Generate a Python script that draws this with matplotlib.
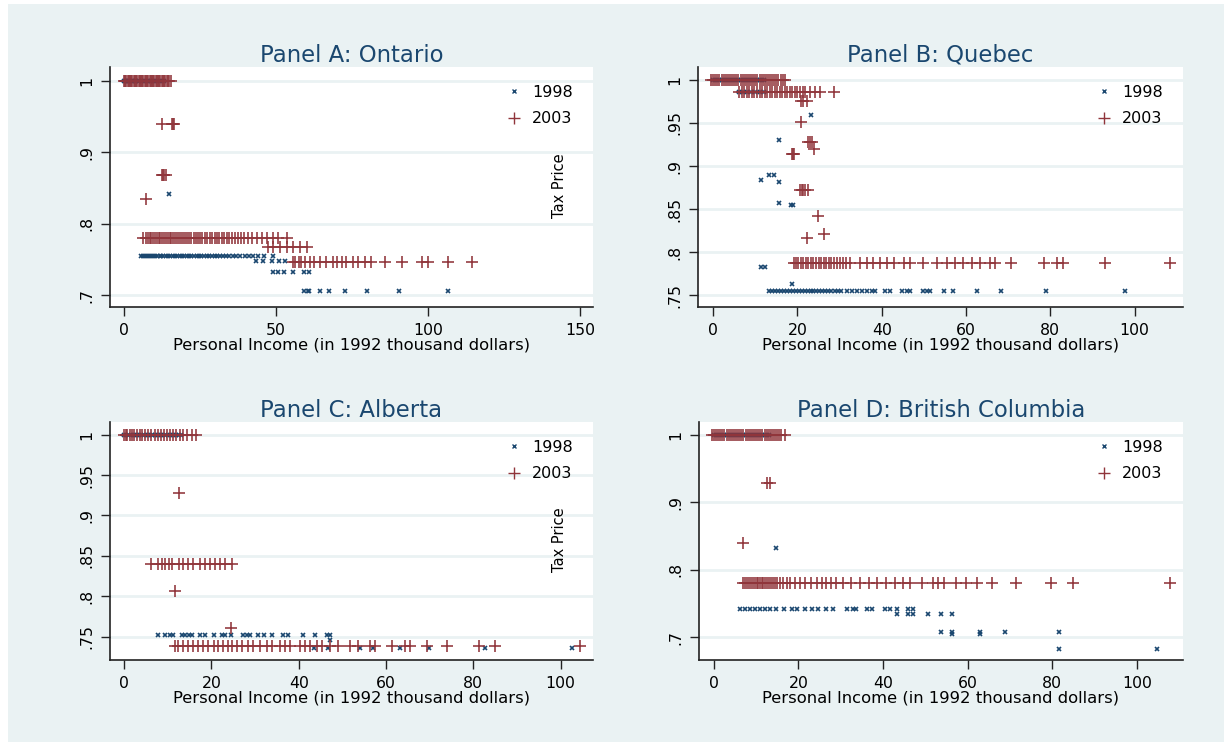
import matplotlib
matplotlib.use("Agg")
import matplotlib.pyplot as plt
from matplotlib.patches import Rectangle
from matplotlib.lines import Line2D

plt.rcParams['font.family'] = ['DejaVu Sans']

# ---------------- data (tax price rows: y -> list of incomes) ----------------
years = ["1998", "2003"]
titles = ["Panel A: Ontario", "Panel B: Quebec", "Panel C: Alberta", "Panel D: British Columbia"]
xlabel = "Personal Income (in 1992 thousand dollars)"
ylabel = "Tax Price"

ont_1998 = {
    1.0: [0, 0.3, 0.6, 1, 1.4, 1.8, 2.2, 2.7, 3.1, 3.6, 4, 4.5, 5, 5.5, 6, 6.6, 7.2, 7.8, 8.4, 9, 9.6,
          10.3, 11, 11.7, 12.4, 13.1],
    0.8415: [14.9],
    0.755: [5.5, 6.2, 7, 7.6, 8.3, 9, 9.6, 10.3, 11, 11.7, 12.3, 13, 13.8, 14.5, 15.2, 16, 16.8, 17.5,
            18.3, 19.1, 19.9, 20.6, 21.4, 22.2, 23, 23.9, 24.7, 25.5, 26.4, 27.2, 28, 28.9, 29.8, 30.7,
            31.6, 32.5, 33.4, 34.6, 35.8, 37, 38.2, 39.8, 41.2, 42.6, 44, 46, 48.9],
    0.7474: [43.3, 45.8, 48.6, 51, 53],
    0.733: [48.9, 50.8, 52.7, 55.5, 59.2, 61],
    0.706: [59.2, 60.6, 61, 64.5, 67.3, 72.7, 79.8, 90.5, 106.6],
}
ont_2003 = {
    1.0: [0, 0.4, 0.8, 1.2, 1.6, 2, 2.4, 2.8, 3.2, 3.6, 4, 4.4, 4.8, 5.2, 5.6, 6, 6.4, 6.8, 7.2, 7.6, 8,
          8.4, 8.8, 9.2, 9.6, 10, 10.4, 10.8, 11.2, 11.6, 12, 12.4, 12.8, 13.2, 13.6, 14, 14.4, 14.9, 15.4],
    0.94: [12.4, 15.7, 16.2, 16.6],
    0.868: [12.5, 12.9, 13.3, 13.7],
    0.835: [7.1],
    0.78: [6.4, 7.2, 7.8, 8.4, 9, 9.6, 10.2, 10.8, 11.4, 12, 12.6, 13.2, 13.8, 14.4, 15, 15.6, 16.2, 16.8,
           17.4, 18, 18.7, 19.4, 20.1, 20.8, 21.5, 22.2, 22.9, 23.6, 24.3, 25, 25.8, 26.6, 27.4, 28.2, 29,
           29.8, 30.6, 31.4, 32.2, 33, 33.8, 34.6, 35.6, 36.6, 37.6, 38.6, 39.6, 40.8, 42, 43.6, 45.3, 46.9,
           48.9, 50.8, 53.5],
    0.768: [47.5, 49.1, 51.3, 53.5, 55.7, 57.9, 60.1],
    0.746: [55.7, 56.2, 57.5, 58.4, 59.5, 61.2, 62.5, 64.5, 66.5, 68.9, 70, 71.6, 73, 75.4, 77, 79.2, 81.4,
            85.8, 91.3, 97.9, 100.1, 106.6, 114.6],
}

que_1998 = {
    1.0: [0, 0.5, 1, 1.5, 2, 2.5, 3, 3.5, 4, 4.5, 5, 5.5, 6, 6.5, 7, 7.5, 8, 8.5, 9, 9.5, 10, 10.5, 11, 11.5, 12],
    0.986: [6.2, 7, 8, 9, 10, 11, 12],
    0.959: [23.3],
    0.93: [15.7],
    0.8895: [13.3, 14.5],
    0.884: [11.4],
    0.881: [15.7],
    0.857: [15.7],
    0.855: [18.5, 19],
    0.783: [11.4, 12.3],
    0.763: [18.7],
    0.755: [13.3, 14, 14.7, 15.4, 16.1, 16.8, 17.5, 18.2, 18.9, 19.6, 20.3, 21, 21.7, 22.4, 23.1, 23.8, 24.5,
            25.2, 25.9, 26.6, 27.3, 28, 28.8, 29.6, 30.4, 31.7, 32.9, 34.1, 35.3, 36.5, 37.6, 38.4, 40.8, 42,
            44.8, 45.9, 46.7, 49.9, 50.8, 51.5, 54.7, 57, 62.6, 68.3, 79, 97.7],
}
que_2003 = {
    1.0: [-0.5, 0, 0.5, 1, 1.5, 2, 2.5, 3, 3.5, 4, 4.5, 5, 5.5, 6, 6.5, 7, 7.5, 8, 8.5, 9, 9.5, 10, 10.5, 11,
          11.5, 12, 12.5, 13, 13.5, 14, 14.5, 15, 15.5, 16, 16.5, 17],
    0.986: [6.2, 6.8, 7.4, 8, 8.6, 9.2, 9.8, 10.4, 11, 11.6, 12.2, 12.8, 13.4, 14, 14.6, 15.2, 15.8, 16.4, 17,
            17.6, 18.2, 18.8, 19.4, 20, 20.6, 21.2, 21.8, 23, 24.2, 25.4, 28.7],
    0.976: [20.9, 21.4, 22.2],
    0.9516: [20.9],
    0.928: [22.6, 23.0, 23.4],
    0.92: [24.0],
    0.914: [18.6, 18.9, 19.2],
    0.8725: [20.5, 21, 21.4, 21.8, 22.4],
    0.842: [24.8],
    0.8206: [26.3],
    0.816: [22.2],
    0.787: [19.1, 19.6, 20.2, 20.8, 21.4, 22, 22.6, 23.2, 23.8, 24.4, 25, 25.6, 26.2, 26.8, 27.4, 28, 28.7,
            29.4, 30.1, 30.8, 31.6, 32.5, 34.9, 36.5, 38, 39.6, 41.2, 42.8, 45.2, 46.7, 49.9, 53.1, 55.4,
            57.4, 59.4, 61.4, 63.3, 65.7, 66.9, 70.7, 78.4, 81.5, 83, 93, 108.4],
}

alb_1998 = {
    1.0: [0, 0.5, 1, 1.5, 2, 2.5, 3, 3.5, 4, 4.5, 5, 5.5, 6, 6.5, 7, 7.5, 8, 8.5, 9, 9.5, 10, 10.5, 11, 11.5,
          12, 12.5, 13],
    0.752: [7.9, 9.5, 10.5, 11.2, 13.2, 14, 14.8, 15.5, 17.4, 18.6, 20.5, 22.4, 23.2, 24.5, 27.3, 28.1, 28.9,
            30.8, 32.1, 33.8, 36.5, 37.6, 41.1, 43.8, 46.4, 47.2],
    0.746: [47.2],
    0.736: [43.4, 46.8, 54.1, 57.1, 63.2, 69.9, 82.7, 102.6],
}
alb_2003 = {
    1.0: [0, 0.4, 0.8, 1.3, 1.8, 2.4, 3, 3.6, 4.2, 4.8, 5.5, 6.2, 7, 7.7, 8.4, 9.1, 9.8, 10.5, 11.2, 12, 12.8,
          13.6, 14.5, 15.5, 16.6],
    0.928: [12.7],
    0.8395: [6.3, 7.9, 8.6, 9.4, 10.2, 10.9, 12.5, 13.6, 14.7, 15.9, 17.4, 18.6, 19.7, 20.9, 22.0, 23.1, 24.7],
    0.806: [11.7],
    0.7605: [24.4],
    0.7387: [11.7, 12.4, 13.6, 14.7, 15.9, 17.0, 18.2, 19.3, 20.5, 21.6, 22.7, 23.9, 24.7, 25.8, 27.0, 28.5,
             29.6, 31.2, 32.7, 33.8, 35.7, 36.9, 38.0, 40.3, 41.5, 42.6, 44.1, 45.3, 47.2, 49.1, 51.8, 53.7,
             56.4, 57.5, 61.3, 64.4, 65.5, 69.3, 73.9, 81.2, 85.0, 104.5],
}

bc_1998 = {
    1.0: [0, 0.5, 1, 1.5, 2, 2.5, 3, 3.5, 4, 4.5, 5, 5.5, 6, 6.5, 7, 7.5, 8, 8.5, 9, 9.5, 10, 10.5, 11, 11.5,
          12, 12.5, 13],
    0.8325: [14.7],
    0.742: [6.1, 7.3, 8.5, 9.7, 10.9, 12.1, 13.2, 14.7, 16.6, 18.4, 19.6, 21.5, 23.1, 24.7, 26.6, 28.2, 31.4,
            32.9, 33.7, 36.1, 37.3, 40.4, 41.6, 43.3, 45.9, 47.0],
    0.734: [43.3, 45.9, 47.0, 50.7, 53.6, 56.4],
    0.708: [53.6, 56.4, 62.9, 68.8, 81.6],
    0.705: [56.4, 62.9],
    0.683: [81.6, 104.7],
}
bc_2003 = {
    1.0: [-0.5, 0, 0.5, 1, 1.5, 2, 2.5, 3, 3.5, 4, 4.5, 5, 5.5, 6, 6.5, 7, 7.5, 8, 8.5, 9, 9.5, 10, 10.5, 11,
          11.5, 12, 12.5, 13, 13.5, 14, 14.5, 15, 15.5, 16, 16.8],
    0.929: [12.5, 13.2],
    0.84: [6.9],
    0.78: [6.9, 7.4, 7.9, 8.4, 8.9, 9.3, 9.7, 10.1, 10.5, 10.9, 11.3, 11.7, 12.1, 12.6, 13.1, 13.5, 14.0, 14.5,
           15.0, 15.7, 16.4, 17.2, 18.0, 19.1, 20.3, 21.5, 22.9, 24.3, 25.5, 26.6, 27.8, 28.8, 30.6, 32.4,
           34.5, 36.7, 38.5, 40.8, 42.8, 44.8, 46.3, 49.1, 51.8, 53.0, 54.4, 57.2, 59.6, 62.2, 65.7, 71.4,
           79.8, 84.8, 107.8],
}

panels = [
    dict(title=titles[0], d98=ont_1998, d03=ont_2003, xlim=(-4.6, 154.3), ylim=(0.6836, 1.019),
         xticks=[0, 50, 100, 150], yticks=[0.7, 0.8, 0.9, 1.0], ylabels=[".7", ".8", ".9", "1"],
         box=(110, 67, 593, 307), taxprice=True),
    dict(title=titles[1], d98=que_1998, d03=que_2003, xlim=(-3.6, 111.5), ylim=(0.7364, 1.015),
         xticks=[0, 20, 40, 60, 80, 100], yticks=[0.75, 0.8, 0.85, 0.9, 0.95, 1.0],
         ylabels=[".75", ".8", ".85", ".9", ".95", "1"], box=(698, 67, 1183, 307), taxprice=False),
    dict(title=titles[2], d98=alb_1998, d03=alb_2003, xlim=(-3.2, 107.4), ylim=(0.7212, 1.0156),
         xticks=[0, 20, 40, 60, 80, 100], yticks=[0.75, 0.8, 0.85, 0.9, 0.95, 1.0],
         ylabels=[".75", ".8", ".85", ".9", ".95", "1"], box=(110, 422, 593, 660), taxprice=True),
    dict(title=titles[3], d98=bc_1998, d03=bc_2003, xlim=(-3.5, 110.9), ylim=(0.6665, 1.0186),
         xticks=[0, 20, 40, 60, 80, 100], yticks=[0.7, 0.8, 0.9, 1.0], ylabels=[".7", ".8", ".9", "1"],
         box=(699, 422, 1183, 660), taxprice=False),
]

# ---------------- styling ----------------
W, H = 1224, 742
BG = "#eaf2f3"
NAVY = "#1a476f"
MAROON = "#90353b"

fig = plt.figure(figsize=(W / 100, H / 100), dpi=100, facecolor="white")
fig.patches.append(Rectangle((8 / W, 0), 1 - 8 / W, 1 - 4 / H, transform=fig.transFigure,
                             facecolor=BG, edgecolor="none", zorder=-10))


def flatten(rows):
    xs, ys = [], []
    for y, xl in rows.items():
        xs.extend(xl)
        ys.extend([y] * len(xl))
    return xs, ys


for p in panels:
    l, t, r, b = p["box"]
    ax = fig.add_axes([l / W, 1 - b / H, (r - l) / W, (b - t) / H])
    ax.set_facecolor("white")
    for s in ("top", "right"):
        ax.spines[s].set_visible(False)
    for s in ("left", "bottom"):
        ax.spines[s].set_linewidth(1.2)
        ax.spines[s].set_color("#222222")
    ax.set_xlim(*p["xlim"])
    ax.set_ylim(*p["ylim"])
    ax.set_xticks(p["xticks"])
    ax.set_xticklabels([str(v) for v in p["xticks"]])
    ax.set_yticks(p["yticks"])
    ax.set_yticklabels(p["ylabels"], rotation=90, va="center")
    ax.tick_params(axis="both", length=6.5, width=1.0, labelsize=11.3, pad=5, colors="#222222",
                   labelcolor="black")
    ax.grid(axis="y", color=BG, linewidth=2.0, zorder=0)
    ax.set_axisbelow(True)

    x98, y98 = flatten(p["d98"])
    x03, y03 = flatten(p["d03"])
    ax.plot(x98, y98, linestyle="none", marker="x", markersize=3.4, markeredgewidth=1.2,
            color=NAVY, zorder=3, clip_on=False)
    ax.plot(x03, y03, linestyle="none", marker="+", markersize=8.0, markeredgewidth=1.15,
            color=MAROON, zorder=4, clip_on=False)

    ax.set_title(p["title"], color=NAVY, fontsize=16.4, pad=3)
    ax.set_xlabel(xlabel, fontsize=11.8, labelpad=0)

    handles = [Line2D([], [], linestyle="none", marker="x", markersize=3.2, markeredgewidth=1.0, color=NAVY),
               Line2D([], [], linestyle="none", marker="+", markersize=8, markeredgewidth=1.0, color=MAROON)]
    ax.legend(handles, years, loc="upper right", bbox_to_anchor=(0.981, 0.973), frameon=False,
              fontsize=11.5, handlelength=1.0, handletextpad=0.6, labelspacing=0.72, borderaxespad=0.3)
    if p["taxprice"]:
        ax.text(0.93, 0.505, ylabel, transform=ax.transAxes, rotation=90, ha="center", va="center",
                fontsize=10.5)

fig.savefig("out.png", dpi=100, facecolor=fig.get_facecolor())
